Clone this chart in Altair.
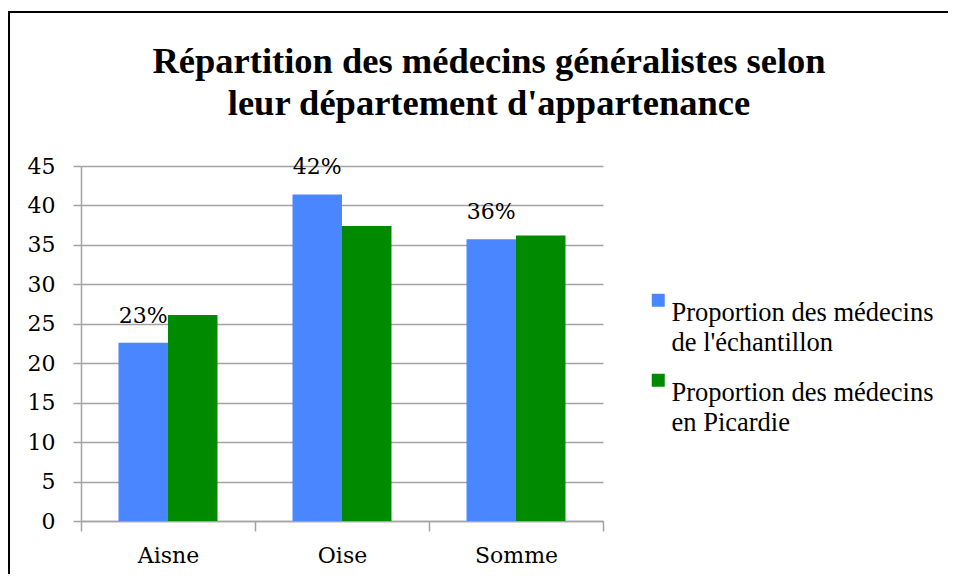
import altair as alt
import pandas as pd

# ---- data ----
departements = ["Aisne", "Oise", "Somme"]
series = ["Proportion des médecins|de l'échantillon", "Proportion des médecins|en Picardie"]
echantillon = [22.6, 41.4, 35.7]
picardie = [26.1, 37.4, 36.2]
pct_labels = ["23%", "42%", "36%"]
y_ticks = [0, 5, 10, 15, 20, 25, 30, 35, 40, 45]
colors = ["#4A86FF", "#008A00"]
title_lines = ["Répartition des médecins généralistes selon", "leur département d'appartenance"]

rows = []
for i, d in enumerate(departements):
    rows.append({"dep": d, "serie": series[0], "val": echantillon[i], "lab": pct_labels[i]})
    rows.append({"dep": d, "serie": series[1], "val": picardie[i], "lab": ""})
df = pd.DataFrame(rows)

grey = "#a3a3a3"
x_enc = alt.X(
    "dep:N", sort=departements,
    scale=alt.Scale(paddingInner=0, paddingOuter=0),
    axis=alt.Axis(title=None, tickBand="extent", labelAngle=0, labelFont="DejaVu Serif",
                  labelFontSize=22, labelColor="black", domainColor=grey, domainWidth=1.5,
                  tickColor=grey, tickWidth=1.5, tickSize=10, labelPadding=14, grid=False),
)
xo_enc = alt.XOffset("serie:N", sort=series,
                     scale=alt.Scale(domain=series, paddingInner=0, paddingOuter=0.758))
y_enc = alt.Y(
    "val:Q", scale=alt.Scale(domain=[0, 45], nice=False),
    axis=alt.Axis(title=None, values=y_ticks, labelFont="DejaVu Serif", labelFontSize=22,
                  labelColor="black", domainColor=grey, domainWidth=1.5, tickColor=grey,
                  tickWidth=1.5, tickSize=8, labelPadding=18, grid=True, gridColor=grey,
                  gridWidth=1.5),
)

base = alt.Chart(df)

bars = base.mark_bar().encode(
    x=x_enc, xOffset=xo_enc, y=y_enc,
    color=alt.Color(
        "serie:N", sort=series,
        scale=alt.Scale(domain=series, range=colors),
        legend=alt.Legend(
            title=None, orient="none", legendX=564, legendY=121, symbolType="square",
            symbolSize=169, symbolStrokeWidth=0, labelFont="Liberation Serif",
            labelFontSize=26.5, labelColor="black", labelLimit=0, labelOffset=0,
            labelExpr="split(datum.label, '|')", labelBaseline="top", rowPadding=10,
            padding=0,
        ),
    ),
)

labels = base.transform_filter(alt.datum.lab != "").mark_text(
    font="DejaVu Serif", fontSize=22, color="black", baseline="alphabetic", dy=-20
).encode(x=x_enc, xOffset=xo_enc, y=y_enc, text="lab:N")

frame = alt.Chart(pd.DataFrame({"k": [0]})).mark_rect(
    fillOpacity=0, stroke="black", strokeWidth=2
).encode(x=alt.value(-72), y=alt.value(-154), x2=alt.value(900), y2=alt.value(500))

chart = alt.layer(frame, bars, labels).properties(
    width=522, height=355,
    autosize=alt.AutoSizeParams(type="none"),
    padding={"left": 73, "top": 158, "right": 345, "bottom": 53},
    title=alt.TitleParams(
        title_lines, font="Liberation Serif", fontSize=36.5, fontWeight="bold",
        color="black", anchor="middle", frame="group", dx=147, offset=-111, lineHeight=42,
    ),
).configure(style={"guide-label": {"lineHeight": 30}}).configure_view(stroke=None)

chart.save("out.html", embed_options={"renderer": "svg", "actions": False})
